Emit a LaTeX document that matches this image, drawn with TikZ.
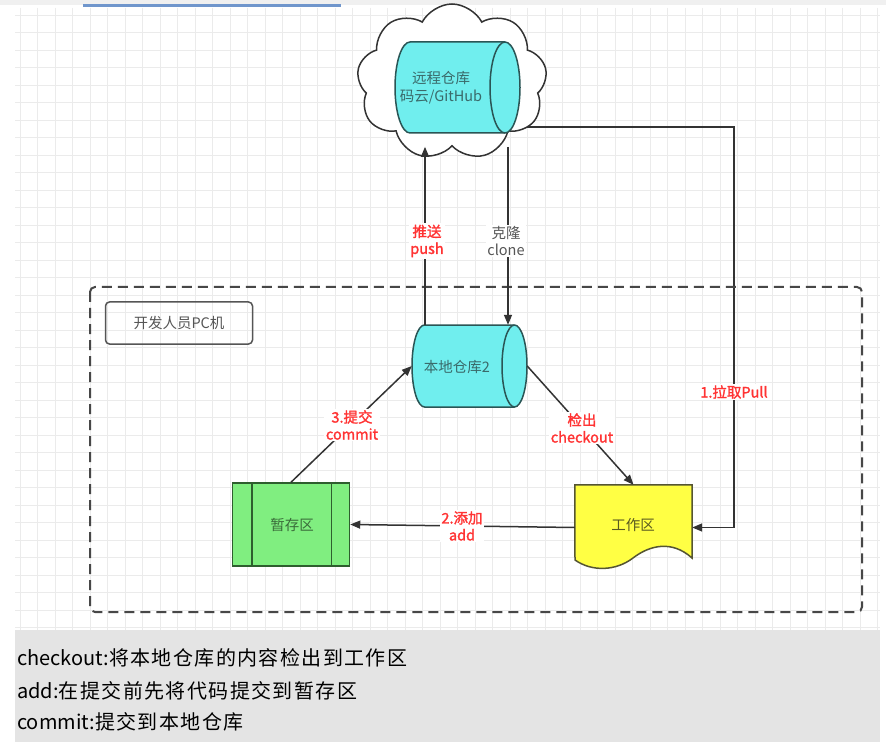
\documentclass[tikz,border=0pt]{standalone}
\usepackage{fontspec}
\setmainfont{Noto Sans CJK SC}[AutoFakeBold=1.6]
\newfontfamily\cjkwide{Noto Sans CJK SC}[LetterSpace=7]
\usetikzlibrary{shapes.symbols,arrows.meta}
\pgfdeclarelayer{back}
\pgfdeclarelayer{bg}
\pgfsetlayers{back,bg,main}
\definecolor{gridc}{HTML}{EBEBEB}
\definecolor{linec}{HTML}{333333}
\definecolor{cyanf}{HTML}{70EEEE}
\definecolor{cyand}{HTML}{2A5555}
\definecolor{cyant}{HTML}{3A6A6A}
\definecolor{greenf}{HTML}{80EE80}
\definecolor{greend}{HTML}{2E5E2E}
\definecolor{greent}{HTML}{3A6B3A}
\definecolor{yellowf}{HTML}{FFFF44}
\definecolor{yellowd}{HTML}{555533}
\definecolor{yellowt}{HTML}{5A5A20}
\definecolor{redl}{HTML}{FF3333}
\definecolor{grayl}{HTML}{555555}
\definecolor{notebg}{HTML}{E4E4E4}
\definecolor{topbar}{HTML}{F0F0F0}
\definecolor{bluebar}{HTML}{7096CC}
\newcommand{\drawcyl}[6]{%
  \draw[draw=cyand,line width=1.5,fill=cyanf] (#2-#4+#6,#3-#5)
    arc[start angle=270,end angle=90,x radius=#6,y radius=#5]
    -- (#2+#4-#6,#3+#5)
    arc[start angle=90,end angle=-90,x radius=#6,y radius=#5] -- cycle;
  \draw[draw=cyand,line width=1.5] (#2+#4-#6,#3-#5)
    arc[start angle=270,end angle=90,x radius=#6,y radius=#5];
  \node[inner sep=0,minimum width=2*#4,minimum height=2*#5] (#1) at (#2,#3) {};
}
\begin{document}
\begin{tikzpicture}[x=1pt,y=-1pt,
  gridline/.style={draw=gridc,line width=0.6},
  arr/.style={draw=linec,line width=1.5,-{Triangle[length=10,width=8]}},
  lbl/.style={fill=white,text=redl,font=\bfseries\fontsize{14.5}{17}\selectfont,align=center,inner sep=1.5},
  glbl/.style={fill=white,text=grayl,font=\fontsize{14.5}{17}\selectfont,align=center,inner sep=1.5},
  ntext/.style={font=\fontsize{14.5}{18}\selectfont,align=center,inner sep=0},
  note/.style={anchor=west,inner sep=0,font=\fontsize{20}{24}\selectfont,text=black}
]
\useasboundingbox (0,0) rectangle (886,751);
\begin{pgfonlayer}{back}
\fill[white] (0,0) rectangle (886,751);
% grid
\foreach \i in {0,...,49} { \draw[gridline] ({20+17.5*\i},8) -- ({20+17.5*\i},630); }
\foreach \j in {0,...,35} { \draw[gridline] (15,{15+17.5*\j}) -- (880,{15+17.5*\j}); }
% top strip
\fill[topbar] (0,0) rectangle (886,5);
\fill[bluebar] (83,4.5) rectangle (341,7);
% notes area
\fill[notebg] (15,630) rectangle (880,742);
\end{pgfonlayer}
\node[note] (n1) at (17,658) {checkout:{\cjkwide 将本地仓库的内容检出到工作区}};
\node[note] (n2) at (17,691) {add:{\cjkwide 在提交前先将代码提交到暂存区}};
\node[note] (n3) at (17,722) {commit:{\cjkwide 提交到本地仓库}};
% dashed PC frame
\draw[draw=linec!90,line width=2,dash pattern=on 10 off 6,rounded corners=5] (90,287) rectangle (862,612);
\node[draw=grayl,line width=1.5,rounded corners=4,minimum width=147,minimum height=42,text=grayl,font=\fontsize{14.5}{17}\selectfont] (pc) at (179,323) {开发人员PC机};
% cloud with remote repository
\node[cloud,cloud puffs=9,cloud puff arc=125,draw=linec,line width=1.5,fill=white,minimum width=190,minimum height=156,aspect=1.2,inner sep=0] (cloud) at (452,82) {};
\drawcyl{remote}{457.5}{87.5}{62.5}{45.5}{15}
\node[ntext,text=cyant] (remotetext) at (441,88) {远程仓库\\码云/GitHub};
% local repository
\drawcyl{local}{469.5}{366}{57.5}{41}{12.5}
\node[ntext,text=cyant] (localtext) at (457,367) {本地仓库2};
% staging area
\node[draw=greend,line width=1.5,fill=greenf,minimum width=117,minimum height=83,inner sep=0] (stage) at (291,524.5) {};
\draw[draw=greend,line width=1.5] ([xshift=20]stage.north west) -- ([xshift=20]stage.south west);
\draw[draw=greend,line width=1.5] ([xshift=-19]stage.north east) -- ([xshift=-19]stage.south east);
\node[ntext,text=greent] (stagetext) at (292,525) {暂存区};
% working area (document shape)
\node[inner sep=0,minimum width=117,minimum height=85] (work) at (633.5,527.5) {};
\draw[draw=yellowd,line width=1.5,fill=yellowf] (work.north west) -- (work.north east) -- (692,558)
  .. controls (672,540) and (650,545) .. (633,558)
  .. controls (616,571) and (592,572) .. (575,560) -- cycle;
\node[ntext,text=yellowt] (worktext) at (633,525) {工作区};
% connectors
\coordinate (pushx) at (425,0);
\coordinate (clonex) at (508,0);
\coordinate (pullx) at (734,0);
\coordinate (pully) at (0,127);
\draw[arr] (local.north -| pushx) -- (cloud.south -| pushx);
\draw[arr] (cloud.south -| clonex) -- (local.north -| clonex);
\begin{pgfonlayer}{bg}
\draw[arr] (cloud.center |- pully) -- (pullx |- pully) -- (pullx |- work.east) -- (work.east);
\end{pgfonlayer}
\draw[arr] (local.east) -- (work.north);
\draw[arr] (work.west) -- (stage.east);
\draw[arr] (stage.north) -- (local.west);
% labels
\node[lbl] (pushlbl) at (427,241) {推送\\push};
\node[glbl] (clonelbl) at (506,241) {克隆\\clone};
\node[lbl] (pulllbl) at (734,392) {1.拉取Pull};
\node[lbl] (checkoutlbl) at (582,428) {检出\\checkout};
\node[lbl] (addlbl) at (462,526) {2.添加\\add};
\node[lbl] (commitlbl) at (352,425) {3.提交\\commit};
\end{tikzpicture}
\end{document}
